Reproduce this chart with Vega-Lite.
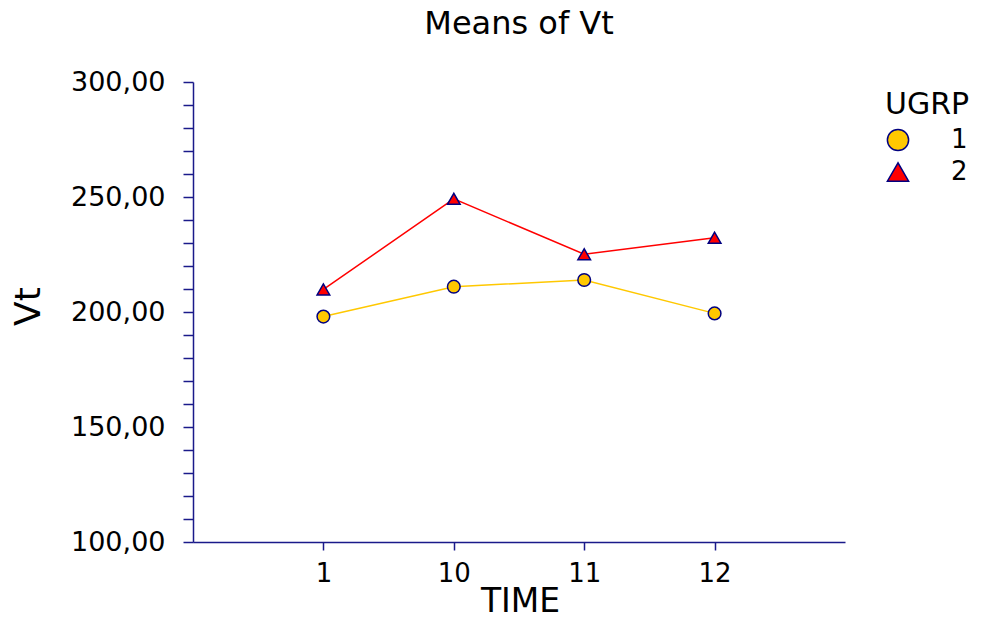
{
  "$schema": "https://vega.github.io/schema/vega-lite/v6.json",
  "width": 652,
  "height": 460,
  "autosize": {"type": "none"},
  "padding": {"left": 193, "top": 82, "right": 143, "bottom": 77},
  "background": "white",
  "config": {
    "font": "DejaVu Sans",
    "view": {"stroke": null}
  },
  "title": {
    "text": "Means of Vt",
    "fontSize": 32,
    "fontWeight": "normal",
    "font": "DejaVu Sans",
    "color": "black",
    "anchor": "middle",
    "frame": "group",
    "offset": 27
  },
  "data": {
    "values": [
      {"TIME": "1", "UGRP": "1", "Vt": 198.0},
      {"TIME": "10", "UGRP": "1", "Vt": 211.0},
      {"TIME": "11", "UGRP": "1", "Vt": 213.9},
      {"TIME": "12", "UGRP": "1", "Vt": 199.4},
      {"TIME": "1", "UGRP": "2", "Vt": 209.8},
      {"TIME": "10", "UGRP": "2", "Vt": 249.2},
      {"TIME": "11", "UGRP": "2", "Vt": 225.1},
      {"TIME": "12", "UGRP": "2", "Vt": 232.3}
    ]
  },
  "encoding": {
    "x": {
      "field": "TIME",
      "type": "ordinal",
      "sort": ["1", "10", "11", "12"],
      "scale": {"type": "point", "padding": 1},
      "axis": {
        "title": "TIME",
        "labelAngle": 0,
        "labelFontSize": 26,
        "labelColor": "black",
        "labelPadding": 10,
        "tickSize": 8,
        "tickColor": "#1a1a8a",
        "domainColor": "#1a1a8a",
        "tickWidth": 1.5,
        "domainWidth": 1.5,
        "titleFontSize": 33,
        "titleFontWeight": "normal",
        "titleColor": "black",
        "titleX": 327,
        "titleY": 69,
        "titleBaseline": "alphabetic",
        "titleAlign": "center",
        "grid": false
      }
    },
    "y": {
      "field": "Vt",
      "type": "quantitative",
      "scale": {"domain": [100, 300], "nice": false, "zero": false},
      "axis": {
        "title": "Vt",
        "values": [100,110,120,130,140,150,160,170,180,190,200,210,220,230,240,250,260,270,280,290,300],
        "labelExpr": "datum.value % 50 == 0 ? replace(format(datum.value, '.2f'), '.', ',') : ''",
        "labelOverlap": false,
        "labelFontSize": 27,
        "labelColor": "black",
        "labelPadding": 18,
        "tickSize": 10,
        "tickColor": "#1a1a8a",
        "domainColor": "#1a1a8a",
        "tickWidth": 1.5,
        "domainWidth": 1.5,
        "titleFontSize": 36,
        "titleFontWeight": "normal",
        "titleColor": "black",
        "titleX": -165,
        "titleY": 224,
        "titleAngle": -90,
        "titleAlign": "center",
        "titleBaseline": "middle",
        "grid": false
      }
    }
  },
  "layer": [
    {
      "transform": [{"filter": "datum.UGRP == '1'"}],
      "mark": {"type": "line", "strokeWidth": 1.5, "color": "#FFC800"},
      "encoding": {}
    },
    {
      "transform": [{"filter": "datum.UGRP == '2'"}],
      "mark": {"type": "line", "strokeWidth": 1.5, "color": "#FF0000"},
      "encoding": {}
    },
    {
      "mark": {"type": "point", "filled": true, "stroke": "#000080", "strokeWidth": 1.5, "opacity": 1, "size": 160},
      "encoding": {
        "fill": {
          "field": "UGRP",
          "type": "nominal",
          "scale": {"domain": ["1", "2"], "range": ["#FFC800", "#FF0000"]},
          "legend": {
            "title": "UGRP",
            "orient": "none",
            "legendX": 692,
            "legendY": 8,
            "padding": 0,
            "titleFontSize": 30,
            "titleFontWeight": "normal",
            "titleColor": "black",
            "titlePadding": 7,
            "labelFontSize": 26,
            "labelColor": "black",
            "labelOffset": 40,
            "symbolSize": 450,
            "symbolStrokeColor": "#000080",
            "symbolStrokeWidth": 1.5,
            "symbolOpacity": 1,
            "rowPadding": 5
          }
        },
        "shape": {
          "field": "UGRP",
          "type": "nominal",
          "scale": {"domain": ["1", "2"], "range": ["circle", "triangle-up"]}
        }
      }
    }
  ]
}
